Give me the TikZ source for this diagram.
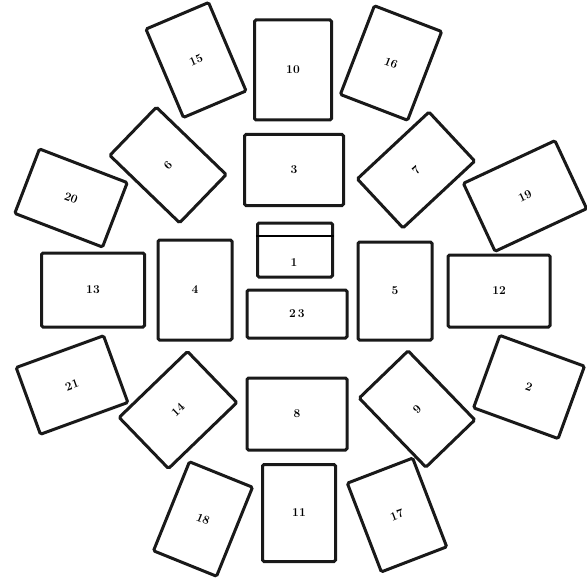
\documentclass[tikz,border=0pt]{standalone}
\begin{document}
\begin{tikzpicture}[x=1pt,y=-1pt,
  card/.style={draw=black!90, line width=3pt, rounded corners=1.5pt, inner sep=0pt,
    font=\bfseries\large},
  sz/.style 2 args={minimum width=#1pt, minimum height=#2pt}]
\useasboundingbox (0,0) rectangle (586,588);
% top row
\node[card, sz={68}{96}, rotate=23]  (c15) at (196,60)  {15};
\node[card, sz={77}{100}]            (c10) at (293,70)  {10};
\node[card, sz={72}{95}, rotate=-21] (c16) at (391,63)  {16};
% second row
\node[card, sz={94}{69}, rotate=-21] (c20) at (71,198)  {20};
\node[card, sz={67}{97}, rotate=46]  (c6)  at (168,165) {6};
\node[card, sz={99}{71}]             (c3)  at (294,170) {3};
\node[card, sz={98}{67}, rotate=43]  (c7)  at (416,170) {7};
\node[card, sz={101}{75}, rotate=25] (c19) at (525,196) {19};
% middle row
\node[card, sz={103}{74}]            (c13) at (93,290)  {13};
\node[card, sz={74}{100}]            (c4)  at (195,290) {4};
\node[card, sz={75}{54}]             (c1)  at (295,250) {};
\node[font=\bfseries\large]          (t1)  at (294,263) {1};
\draw[line width=2pt] ([yshift=-14pt]c1.north west) -- ([yshift=-14pt]c1.north east);
\node[card, sz={100}{48}]            (c23) at (297,314) {2\,3};
\node[card, sz={74}{98}]             (c5)  at (395,291) {5};
\node[card, sz={102}{72}]            (c12) at (499,291) {12};
% fourth row
\node[card, sz={93}{71}, rotate=20]  (c21) at (72,385)  {21};
\node[card, sz={95}{71}, rotate=44]  (c14) at (178,410) {14};
\node[card, sz={100}{72}]            (c8)  at (297,414) {8};
\node[card, sz={68}{96}, rotate=44]  (c9)  at (417,409) {9};
\node[card, sz={90}{77}, rotate=-20] (c2)  at (529,387) {2};
% bottom row
\node[card, sz={68}{96}, rotate=-22] (c18) at (203,519) {18};
\node[card, sz={73}{97}]             (c11) at (299,513) {11};
\node[card, sz={70}{95}, rotate=21]  (c17) at (397,515) {17};
\end{tikzpicture}
\end{document}
